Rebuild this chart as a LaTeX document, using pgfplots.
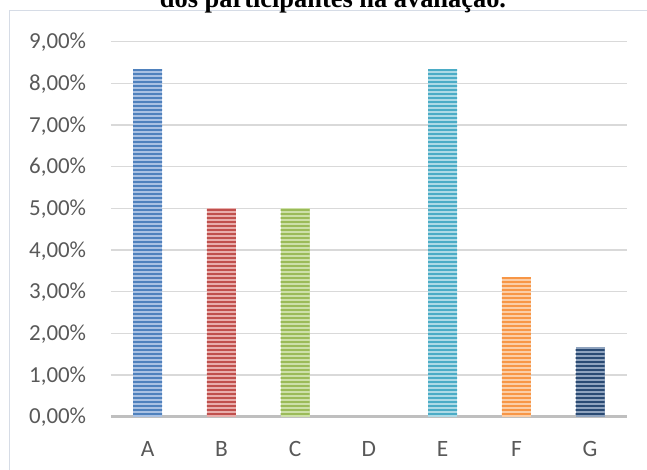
\documentclass[border=0pt]{standalone}
\usepackage{fontspec}
\setmainfont{Carlito}
\newfontfamily\titlefont{Liberation Serif}
\usepackage{pgfplots}
\pgfplotsset{compat=1.18}
\usetikzlibrary{patterns.meta}
\definecolor{tickgray}{HTML}{595959}
\definecolor{gridgray}{HTML}{D9D9D9}
\definecolor{basegray}{HTML}{BFBFBF}
\definecolor{framec}{HTML}{D6DCE6}
\definecolor{Al}{HTML}{A9C1E3}\definecolor{Ad}{HTML}{4F81BD}
\definecolor{Bl}{HTML}{E8ADAB}\definecolor{Bd}{HTML}{C0504D}
\definecolor{Cl}{HTML}{CDE0A8}\definecolor{Cd}{HTML}{9BBB59}
\definecolor{El}{HTML}{ADDAE6}\definecolor{Ed}{HTML}{4BACC6}
\definecolor{Fl}{HTML}{FBCDA6}\definecolor{Fd}{HTML}{F79646}
\definecolor{Gl}{HTML}{8FA3BE}\definecolor{Gd}{HTML}{2A4A73}
\begin{document}
\begin{tikzpicture}
\useasboundingbox (0,0) rectangle (647bp,470bp);
\draw[framec, line width=1bp] (9.5bp,-20bp) -- (9.5bp,459bp) -- (680bp,459bp);
\node[anchor=base, font=\titlefont\bfseries\fontsize{26.5}{30}\selectfont, inner sep=0] at (333bp,462.5bp) {dos participantes na avaliação.};
\begin{axis}[
  at={(110.8bp,53.3bp)}, anchor=south west,
  scale only axis, width=516.2bp, height=375bp,
  xmin=-0.5, xmax=6.5, ymin=0, ymax=9,
  ybar, bar shift=0pt, bar width=29bp,
  axis y line=left,
  y axis line style={draw=none},
  axis x line=bottom,
  x axis line style={-, line width=3bp, color=basegray},
  ymajorgrids, grid style={gridgray, line width=1.5bp},
  major tick length=0pt,
  xtick={0,1,2,3,4,5,6},
  xticklabels={A,B,C,D,E,F,G},
  ytick={0,1,2,3,4,5,6,7,8,9},
  yticklabels={{0,00\%},{1,00\%},{2,00\%},{3,00\%},{4,00\%},{5,00\%},{6,00\%},{7,00\%},{8,00\%},{9,00\%}},
  xticklabel style={anchor=base, inner sep=0pt, yshift=-40bp, font=\fontsize{23.5}{26}\selectfont, text=tickgray},
  yticklabel style={anchor=base east, inner sep=0pt, xshift=-24.5bp, yshift=-7bp, font=\fontsize{23}{26}\selectfont, text=tickgray},
  clip=false,
]
\addplot[fill=Al, draw=none, postaction={pattern={Lines[angle=0,distance=4bp,line width=2bp]}, pattern color=Ad}] coordinates {(0,8.333)};
\addplot[fill=Bl, draw=none, postaction={pattern={Lines[angle=0,distance=4bp,line width=2bp]}, pattern color=Bd}] coordinates {(1,5.0)};
\addplot[fill=Cl, draw=none, postaction={pattern={Lines[angle=0,distance=4bp,line width=2bp]}, pattern color=Cd}] coordinates {(2,5.0)};
\addplot[fill=El, draw=none, postaction={pattern={Lines[angle=0,distance=4bp,line width=2bp]}, pattern color=Ed}] coordinates {(4,8.333)};
\addplot[fill=Fl, draw=none, postaction={pattern={Lines[angle=0,distance=4bp,line width=2bp]}, pattern color=Fd}] coordinates {(5,3.333)};
\addplot[fill=Gl, draw=none, postaction={pattern={Lines[angle=0,distance=4bp,line width=2bp]}, pattern color=Gd}] coordinates {(6,1.667)};
\end{axis}
\end{tikzpicture}
\end{document}
